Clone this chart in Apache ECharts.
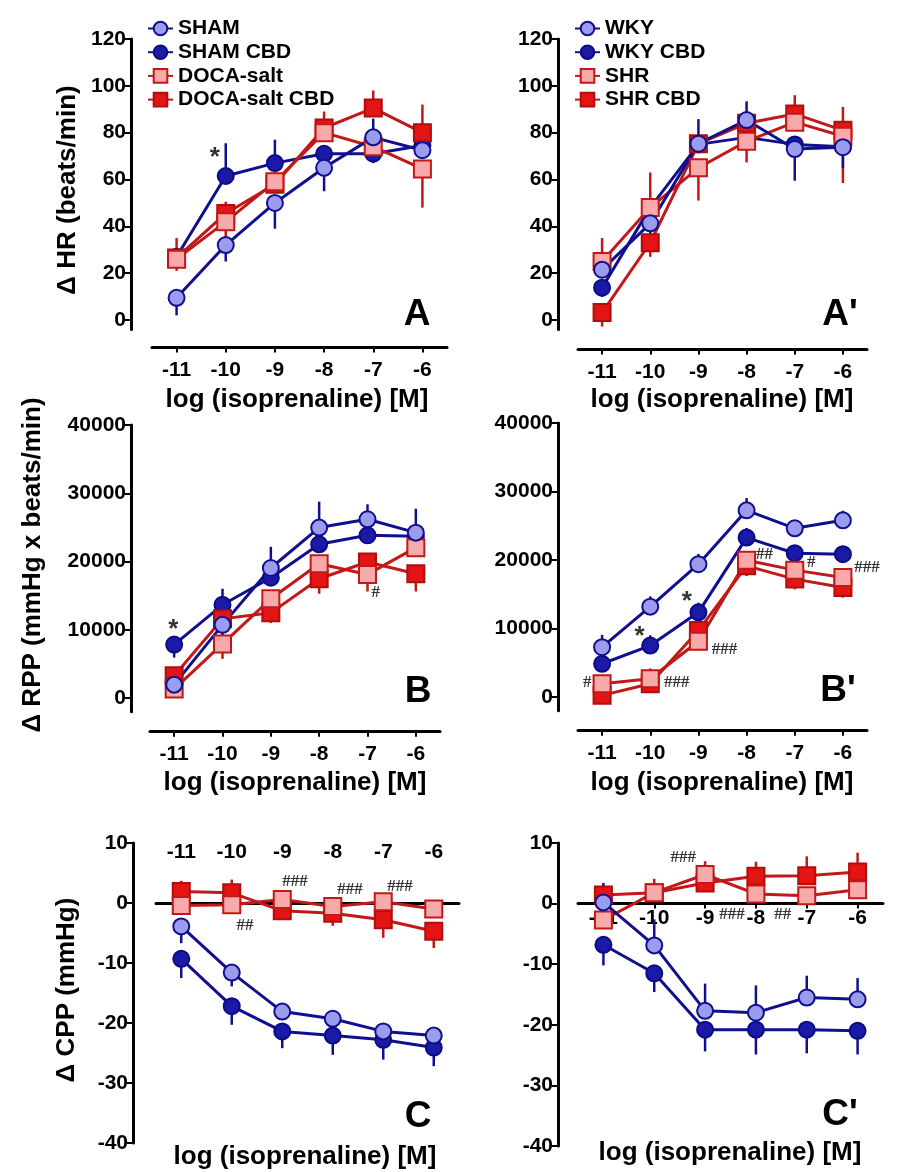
<!DOCTYPE html>
<html>
<head>
<meta charset="utf-8">
<script src="https://cdn.jsdelivr.net/npm/echarts@6/dist/echarts.min.js"></script>
<style>
  html, body { margin: 0; background: #fff; }
  #chart { width: 903px; height: 1172px; }
</style>
</head>
<body>
<div id="chart"></div>
<script>
// log (isoprenaline) doses, shared by every panel
const doses = [-11, -10, -9, -8, -7, -6];
const hrTicks = [0, 20, 40, 60, 80, 100, 120];
const rppTicks = [0, 10000, 20000, 30000, 40000];
const cppTicks = [-40, -30, -20, -10, 0, 10];

// A: delta HR, SHAM / DOCA-salt
const shamHR = [9.5, 32, 50, 65, 78, 72.5];
const shamHRErr = [-7.5, -7, -11, -10, 8, 0];
const shamCbdHR = [27, 61.5, 67, 71, 71, 74.5];
const shamCbdHRErr = [0, 14, 10, 0, -4, 0];
const docaHR = [26, 42, 59, 80, 74, 64.5];
const docaHRErr = [9, -9, 0, 0, -5.5, -16.5];
const docaCbdHR = [26.5, 45.5, 58, 82, 90.5, 80];
const docaCbdHRErr = [-5.5, 5, 8, 7, 7.5, 12];

// A': delta HR, WKY / SHR
const wkyHR = [21.5, 41.3, 75.3, 85.4, 73, 73.8];
const wkyHRErr = [0, -12, 10.5, 8, -13.5, -9];
const wkyCbdHR = [13.8, 48, 75, 78, 75, 74];
const wkyCbdHRErr = [-4, 0, 0, 0, 0, 0];
const shrHR = [25, 48, 65, 76.3, 84.5, 78.5];
const shrHRErr = [10, 15, -14, -9, 0, -20];
const shrCbdHR = [3.2, 33, 75.3, 84, 88, 81];
const shrCbdHRErr = [-6, -6, 0, 0, 8, 10];

// B: delta RPP, SHAM / DOCA-salt
const shamRPP = [1960, 10720, 19050, 24970, 26190, 24230];
const shamRPPErr = [0, -2500, 3100, 3800, 2200, 3500];
const shamCbdRPP = [7830, 13660, 17630, 22520, 23840, 23700];
const shamCbdRPPErr = [-1900, 2350, 0, 0, 0, 0];
const docaRPP = [1320, 7930, 14540, 19680, 18110, 22030];
const docaRPPErr = [0, -2200, 0, 0, -2500, 0];
const docaCbdRPP = [3280, 11600, 12480, 17480, 19930, 18210];
const docaCbdRPPErr = [0, 0, -1500, -2200, 0, -2600];

// B': delta RPP, WKY / SHR
const wkyRPP = [7270, 13190, 19390, 27250, 24630, 25790];
const wkyRPPErr = [1800, 1500, 1500, 1800, 1200, 1400];
const wkyCbdRPP = [4850, 7510, 12360, 23270, 20990, 20850];
const wkyCbdRPPErr = [0, 1500, 1400, 1400, 800, 500];
const shrRPP = [1940, 2670, 8140, 19970, 18520, 17450];
const shrRPPErr = [0, 1500, 0, 0, 0, 0];
const shrCbdRPP = [240, 1940, 9700, 19150, 17210, 16000];
const shrCbdRPPErr = [0, 0, 0, -1500, -1500, -1500];

// C: delta CPP, SHAM / DOCA-salt
const shamCPP = [-3.9, -11.6, -18.1, -19.3, -21.4, -22.1];
const shamCPPErr = [-2.8, -2.3, 0, 0, 0, 0];
const shamCbdCPP = [-9.3, -17.2, -21.4, -22.1, -22.8, -24.1];
const shamCbdCPPErr = [-3.2, -3.1, -2.8, -3.2, -3.3, -3.1];
const docaCPP = [-0.4, -0.3, 0.6, -0.6, 0.2, -1.0];
const docaCPPErr = [0, 0, 0, 0, 0, 0];
const docaCbdCPP = [1.9, 1.7, -1.3, -1.7, -2.8, -4.7];
const docaCbdCPPErr = [1.8, 2.2, 0, -2.1, -3.0, -2.8];

// C': delta CPP, WKY / SHR
const wkyCPP = [0.2, -6.9, -17.7, -18.0, -15.5, -15.8];
const wkyCPPErr = [3.2, 4.3, 4.5, 4.5, 3.6, 3.5];
const wkyCbdCPP = [-6.8, -11.5, -20.8, -20.8, -20.8, -21.0];
const wkyCbdCPPErr = [-3.4, -3.1, -3.6, -4.1, -3.9, -3.9];
const shrCPP = [-2.7, 1.8, 4.8, 1.6, 1.3, 2.3];
const shrCPPErr = [0, 0, 0, 0, 0, 0];
const shrCbdCPP = [1.4, 1.8, 3.4, 4.5, 4.6, 5.2];
const shrCbdCPPErr = [0, 2.3, 3.6, 2.4, 3.2, 3.2];

// significance marks [dose, value, text]
const notesA = [[-10.22, 69.2, '*']];
const notesA2 = [];
const notesB = [[-11.02, 9960, '*'], [-6.83, 15380, '#']];
const notesB2 = [[-11.31, 2040, '#'], [-9.45, 2040, '###'], [-10.22, 8760, '*'], [-9.24, 13870, '*'],
  [-8.46, 6860, '###'], [-7.63, 20730, '##'], [-6.66, 19560, '#'], [-5.5, 18830, '###']];
const notesC = [[-9.74, -3.7, '##'], [-8.75, 3.5, '###'], [-7.66, 2.2, '###'], [-6.67, 2.8, '###'], [-5.48, -2.5, '###']];
const notesC2 = [[-9.43, 7.6, '###'], [-8.47, -1.8, '###'], [-7.47, -1.8, '##'], [-5.46, 2.3, '###']];

const legendLeft = ['SHAM', 'SHAM CBD', 'DOCA-salt', 'DOCA-salt CBD'];
const legendRight = ['WKY', 'WKY CBD', 'SHR', 'SHR CBD'];

const FONT = '"Liberation Sans", Arial, sans-serif';
const NAVY = '#10108f';
const RED = '#c21818';
const STY = {
  darkCircle: { symbol: 'circle', size: 16, fill: '#1a1aa6', border: '#0b0b86', line: NAVY },
  lightCircle: { symbol: 'circle', size: 16, fill: '#9c9cee', border: NAVY, line: NAVY },
  darkSquare: { symbol: 'rect', size: 17, fill: '#e51414', border: '#b00d0d', line: RED },
  lightSquare: { symbol: 'rect', size: 17, fill: '#f8a9a9', border: RED, line: RED }
};

// draw order: dark circle, dark square, light square, light circle (on top)
const leftGroups = (a, b, c, d) => [
  ['SHAM CBD', a[0], a[1], 'darkCircle'],
  ['DOCA-salt CBD', b[0], b[1], 'darkSquare'],
  ['DOCA-salt', c[0], c[1], 'lightSquare'],
  ['SHAM', d[0], d[1], 'lightCircle']
];
const rightGroups = (a, b, c, d) => [
  ['WKY CBD', a[0], a[1], 'darkCircle'],
  ['SHR CBD', b[0], b[1], 'darkSquare'],
  ['SHR', c[0], c[1], 'lightSquare'],
  ['WKY', d[0], d[1], 'lightCircle']
];

const panels = [
  { box: { left: 152, top: 39, width: 295, height: 290.4 }, yMin: -4, yMax: 120, yTicks: hrTicks, yOffset: 21,
    xMode: 'below', xOffset: 18, notes: notesA,
    groups: leftGroups([shamCbdHR, shamCbdHRErr], [docaCbdHR, docaCbdHRErr], [docaHR, docaHRErr], [shamHR, shamHRErr]) },
  { box: { left: 578, top: 39, width: 289, height: 290.4 }, yMin: -4, yMax: 120, yTicks: hrTicks, yOffset: 20,
    xMode: 'below', xOffset: 20, notes: notesA2,
    groups: rightGroups([wkyCbdHR, wkyCbdHRErr], [shrCbdHR, shrCbdHRErr], [shrHR, shrHRErr], [wkyHR, wkyHRErr]) },
  { box: { left: 150, top: 425, width: 290, height: 286.7 }, yMin: -2000, yMax: 40000, yTicks: rppTicks, yOffset: 19,
    xMode: 'below', xOffset: 20, notes: notesB,
    groups: leftGroups([shamCbdRPP, shamCbdRPPErr], [docaCbdRPP, docaCbdRPPErr], [docaRPP, docaRPPErr], [shamRPP, shamRPPErr]) },
  { box: { left: 578, top: 423, width: 289, height: 287.7 }, yMin: -2000, yMax: 40000, yTicks: rppTicks, yOffset: 20,
    xMode: 'below', xOffset: 20, notes: notesB2,
    groups: rightGroups([wkyCbdRPP, wkyCbdRPPErr], [shrCbdRPP, shrCbdRPPErr], [shrRPP, shrRPPErr], [wkyRPP, wkyRPPErr]) },
  { box: { left: 156, top: 843, width: 303, height: 300 }, yMin: -40, yMax: 10, yTicks: cppTicks, yOffset: 23,
    xMode: 'zeroTop', notes: notesC,
    groups: leftGroups([shamCbdCPP, shamCbdCPPErr], [docaCbdCPP, docaCbdCPPErr], [docaCPP, docaCPPErr], [shamCPP, shamCPPErr]) },
  { box: { left: 578, top: 843, width: 305, height: 303 }, yMin: -40, yMax: 10, yTicks: cppTicks, yOffset: 20,
    xMode: 'zeroBottom', notes: notesC2,
    groups: rightGroups([wkyCbdCPP, wkyCbdCPPErr], [shrCbdCPP, shrCbdCPPErr], [shrCPP, shrCPPErr], [wkyCPP, wkyCPPErr]) }
];

const grids = [], xAxes = [], yAxes = [], series = [];
const labelStyle = { fontSize: 21, fontWeight: 'bold', color: '#000', fontFamily: FONT };

panels.forEach((p, i) => {
  grids.push(p.box);
  const h = p.box.height, span = p.yMax - p.yMin;
  // the C panels put the x axis on the zero line; move it there with a (negative) offset
  let offset = p.xOffset || 0;
  if (p.xMode === 'zeroTop') offset = -h * p.yMax / span;
  if (p.xMode === 'zeroBottom') offset = -h * (-p.yMin) / span;
  xAxes.push({
    type: 'value', gridIndex: i, min: -11.5, max: -5.5,
    position: p.xMode === 'zeroTop' ? 'top' : 'bottom',
    offset: offset,
    axisLine: { show: true, onZero: false, lineStyle: { color: '#000', width: 3 } },
    axisTick: { show: true, customValues: doses, length: 5, inside: p.xMode === 'zeroTop',
      lineStyle: { color: '#000', width: 2 } },
    axisLabel: Object.assign({ customValues: doses, margin: p.xMode === 'zeroTop' ? 40 : (p.xMode === 'zeroBottom' ? 4 : 12),
      formatter: v => String(v) }, labelStyle),
    splitLine: { show: false }
  });
  yAxes.push({
    type: 'value', gridIndex: i, min: p.yMin, max: p.yMax, offset: p.yOffset,
    axisLine: { show: true, onZero: false, lineStyle: { color: '#000', width: 3 } },
    axisTick: { show: true, customValues: p.yTicks, length: 6, lineStyle: { color: '#000', width: 2 } },
    axisLabel: Object.assign({ customValues: p.yTicks, margin: 5, formatter: v => String(v) }, labelStyle),
    splitLine: { show: false }
  });

  p.groups.forEach(([name, vals, err, sty]) => {
    const s = STY[sty];
    series.push({
      type: 'custom', name: name + ' SEM', xAxisIndex: i, yAxisIndex: i, z: 2, silent: true,
      data: doses.map((x, j) => [x, vals[j], vals[j] + err[j]]).filter((d, j) => err[j] !== 0),
      encode: { x: 0, y: [1, 2] },
      renderItem: (params, api) => {
        const a = api.coord([api.value(0), api.value(1)]);
        const b = api.coord([api.value(0), api.value(2)]);
        return { type: 'line', shape: { x1: a[0], y1: a[1], x2: b[0], y2: b[1] },
          style: { stroke: s.line, lineWidth: 2.5 } };
      }
    });
  });
  p.groups.forEach(([name, vals, err, sty]) => {
    const s = STY[sty];
    series.push({
      type: 'line', name: name, xAxisIndex: i, yAxisIndex: i, z: 3,
      data: doses.map((x, j) => [x, vals[j]]),
      symbol: s.symbol, symbolSize: s.size, showAllSymbol: true,
      itemStyle: { color: s.fill, borderColor: s.border, borderWidth: 2, opacity: 1 },
      lineStyle: { color: s.line, width: 3 },
      emphasis: { disabled: true }, animation: false
    });
  });
  series.push({
    type: 'scatter', xAxisIndex: i, yAxisIndex: i, z: 5, silent: true, symbolSize: 1,
    itemStyle: { color: 'rgba(0,0,0,0)' },
    data: p.notes.map(n => ({
      value: [n[0], n[1]], name: n[2],
      label: n[2] === '*'
        ? { fontSize: 26, fontWeight: 'bold', fontFamily: FONT, color: '#000' }
        : { fontSize: 17, fontWeight: 'bold', fontFamily: '"Liberation Serif", serif', color: '#000' }
    })),
    label: { show: true, position: 'inside', formatter: '{b}' }
  });
});

const text = (t, x, y, size, rot) => ({
  type: 'text', x: x, y: y, rotation: rot || 0, silent: true,
  style: { text: t, fontSize: size, fontWeight: 'bold', fontFamily: FONT, fill: '#000',
    align: 'center', verticalAlign: 'middle' }
});
const xTitle = 'log (isoprenaline) [M]';

const legendBase = {
  orient: 'vertical', top: 13, itemWidth: 25, itemHeight: 17, itemGap: 2.7, selectedMode: false,
  textStyle: { fontSize: 21, fontWeight: 'bold', color: '#000', fontFamily: FONT }
};

const chart = echarts.init(document.getElementById('chart'));
chart.setOption({
  animation: false,
  backgroundColor: '#fff',
  grid: grids,
  xAxis: xAxes,
  yAxis: yAxes,
  legend: [
    Object.assign({ left: 142, data: legendLeft }, legendBase),
    Object.assign({ left: 569, data: legendRight }, legendBase)
  ],
  graphic: [
    text('\u0394 HR (beats/min)', 68, 190, 26, Math.PI / 2),
    text('\u0394 RPP (mmHg x beats/min)', 33, 565, 26, Math.PI / 2),
    text('\u0394 CPP (mmHg)', 67, 990, 26, Math.PI / 2),
    text(xTitle, 297, 400, 26), text(xTitle, 722, 400, 26),
    text(xTitle, 295, 783, 26), text(xTitle, 722, 783, 26),
    text(xTitle, 305, 1157, 26), text(xTitle, 730, 1153, 26),
    text('A', 417, 315, 37), text("A'", 840, 315, 37),
    text('B', 418, 692, 37), text("B'", 838, 691, 37),
    text('C', 418, 1117, 37), text("C'", 840, 1115, 37)
  ],
  series: series
});
</script>
</body>
</html>
